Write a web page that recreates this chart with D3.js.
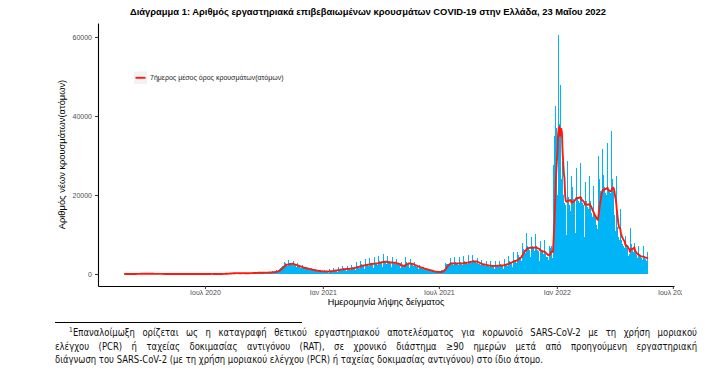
<!DOCTYPE html>
<html><head><meta charset="utf-8">
<script src="https://cdn.jsdelivr.net/npm/d3@7"></script>
<style>
body{margin:0;background:#ffffff;}
svg{display:block;}
</style></head><body>
<svg id="chart" width="716" height="371"></svg>
<script>
// ---------------- DATA ----------------
const startDate = "2020-02-26";

const daily2020 = [
  1,2,1,0,2,
  2,2,5,12,14,15,7,
  18,17,22,31,40,38,24,
  20,56,50,46,77,35,94,
  71,48,78,102,71,74,95,
  56,102,60,129,110,62,60,
  70,56,94,62,54,38,26,
  12,40,25,30,60,50,14,
  21,156,29,17,10,30,15,
  14,8,15,13,9,15,10,
  10,15,5,12,4,10,8,
  6,3,12,19,15,7,3,
  16,6,8,3,8,7,1,
  5,7,13,9,6,6,0,
  2,15,12,3,10,97,7,
  9,10,10,9,21,16,5,
  8,13,15,20,20,13,9,
  4,13,16,16,20,17,6,
  12,17,14,15,19,23,26,
  17,27,33,31,36,47,23,
  21,16,28,29,26,31,19,
  22,33,25,28,33,26,28,
  38,33,75,46,57,110,50,
  40,75,121,124,153,203,151,
  105,150,262,204,217,230,217,
  169,269,235,284,187,202,160,
  175,293,250,222,281,247,160,
  147,156,226,169,234,262,160,
  153,224,372,264,249,240,180,
  206,277,338,297,389,351,220,
  240,453,346,357,312,395,230,
  218,410,416,460,380,393,240,
  219,410,480,440,471,500,300,
  238,543,521,684,508,560,400,
  478,667,1000,882,841,935,620,
  1300,1550,1700,1800,2100,1950,1500,
  3000,2700,2600,2450,2350,2100,1600,
  3600,2850,2700,2600,2500,2300,1650,
  3200,2450,2300,2200,2100,1900,1600,
  2700,1950,1850,1750,1650,1500,1200,
  2300,1650,1500,1450,1400,1250,950,
  1900,1400,1250,1200,1150,1050,800,
  1450,1050,950,920,880,800,600,
  1200,880,800,750,700,500,630,
  1050,760,700,650
];

const daily2021 = [
  450,500,640,
  1000,720,660,630,600,550,390,
  1180,840,760,740,700,640,460,
  1470,1050,950,920,880,810,570,
  1780,1270,1150,1110,1070,980,690,
  1980,1410,1280,1240,1190,1090,770,
  2080,1470,1340,1300,1250,1140,800,
  2400,1700,1550,1500,1440,1320,940,
  2950,2090,1900,1840,1770,1620,1130,
  3410,2420,2200,2130,2050,1870,1320,
  3720,2640,2400,2330,2230,2040,1440,
  4030,2860,2600,2520,2420,2210,1560,
  4190,2970,2700,2620,2510,2300,1610,
  4650,3300,3000,2910,2790,2550,1800,
  5100,3350,3100,3000,2880,2620,1650,
  4570,3250,2950,2860,2740,2510,1770,
  4420,3140,2850,2760,2650,2420,1710,
  3880,2750,2500,2420,2330,2120,1500,
  1600,3100,2200,2000,1900,1700,1500,
  4200,2970,2700,2620,2510,2300,1600,
  3880,2750,2500,2420,2330,2120,1500,
  3020,2150,1950,1890,1810,1660,1170,
  2400,1710,1550,1500,1440,1320,930,
  1860,1320,1200,1160,1120,1020,720,
  1400,990,900,870,840,760,540,
  900,640,580,560,540,490,350,
  780,550,500,490,460,430,290,
  900,900,1000,1100,1250,1400,1150,
  2700,2500,2600,2650,2500,2300,1900,
  4100,2900,2650,2570,2460,2250,1620,
  4190,2970,2700,2620,2510,2300,1610,
  4200,2950,2700,2610,2520,2290,1630,
  4500,3190,2900,2810,2700,2470,1730,
  4700,3470,3150,3060,2930,2680,2060,
  4700,3520,3200,3100,2980,2720,2180,
  4100,2920,2650,2570,2460,2250,1600,
  3640,2590,2350,2280,2190,2000,1400,
  3260,2310,2100,2040,1950,1790,1250,
  3180,2260,2050,1990,1910,1740,1220,
  3260,2310,2100,2040,1950,1790,1250,
  3410,2420,2200,2130,2050,1870,1320,
  3880,2750,2500,2420,2330,2120,1500,
  4650,3300,3000,2910,2790,2550,1800,
  5500,3800,3400,3300,3100,2900,2500,
  5500,4800,4500,4300,4000,3800,3200,
  7800,7000,6300,6000,5700,5400,3800,
  10400,7200,6800,6500,6200,5600,4200,
  9500,7500,7000,6600,6300,5800,4200,
  10200,7000,6300,6000,5800,5400,3400,
  8400,6500,5800,5500,5200,5000,3500,
  8500,5000,4700,4400,4200,4000,3500,
  7200,6000,6500,7000,6000,3000,4000,
  27600,30000,35000,42400,37000
];

const daily2022 = [
  22000,20000,
  60500,41000,38000,26000,47900,24000,12000,
  28700,20000,19000,18000,17500,15000,10000,
  28700,21000,19500,18500,17500,16000,9000,
  24700,22000,20000,19000,18500,17000,10400,
  26800,23400,19500,19000,18500,18000,9900,
  28100,19500,18500,18000,17500,16500,9300,
  23400,20500,18500,17500,17000,16500,9800,
  24700,18500,16500,15500,14500,13000,7900,
  22200,15500,14500,13500,12500,11500,6300,
  29900,24000,22500,21000,20000,19000,10600,
  31700,25000,22000,21500,20500,20000,11200,
  33100,21500,20500,21000,20500,19000,11400,
  36300,24000,21000,19000,15000,11000,6700,
  24900,12000,10500,9500,9000,8500,6100,
  16400,8500,7500,7000,7000,6500,5200,
  9700,7500,7000,6500,5500,4500,3400,
  5000,11600,7500,6500,6000,5500,2700,
  7800,6000,5200,4800,4500,4000,2700,
  7000,5000,4500,4200,4000,3600,2500,
  7000,4500,4000,3800,3700,3300,2400,
  5500
];

const xTickDates  = ["2020-07-01","2021-01-01","2021-07-01","2022-01-01","2022-07-01"];
const xTickLabels = ["Ιουλ 2020","Ιαν 2021","Ιουλ 2021","Ιαν 2022","Ιουλ 2022"];
const yTickValues = [0, 20000, 40000, 60000];

const titleText  = "Διάγραμμα 1: Αριθμός εργαστηριακά επιβεβαιωμένων κρουσμάτων COVID-19 στην Ελλάδα, 23 Μαΐου 2022";
const yTitleText = "Αριθμός νέων κρουσμάτων(ατόμων)";
const xTitleText = "Ημερομηνία λήψης δείγματος";
const legendText = "7ήμερος μέσος όρος κρουσμάτων(ατόμων)";
const footnoteLines = [
  "Επαναλοίμωξη ορίζεται ως η καταγραφή θετικού εργαστηριακού αποτελέσματος για κορωνοϊό SARS-CoV-2 με τη χρήση μοριακού",
  "ελέγχου (PCR) ή ταχείας δοκιμασίας αντιγόνου (RAT), σε χρονικό διάστημα ≥90 ημερών μετά από προηγούμενη εργαστηριακή",
  "διάγνωση του SARS-CoV-2 (με τη χρήση μοριακού ελέγχου (PCR) ή ταχείας δοκιμασίας αντιγόνου) στο ίδιο άτομο."
];

// ---------------- BUILD ----------------
const parse = d3.utcParse("%Y-%m-%d");
const start = parse(startDate);
const values = daily2020.concat(daily2021, daily2022);
const data = values.map((v, i) => ({date: d3.utcDay.offset(start, i), value: v}));
// 7-day (trailing) average
data.forEach((d, i) => {
  const win = data.slice(Math.max(0, i - 6), i + 1);
  d.ma = d3.mean(win, w => w.value);
});

const W = 716, H = 371;
const panel = {left: 98, right: 674, top: 23, bottom: 286};
const svg = d3.select("#chart");
svg.append("rect").attr("width", W).attr("height", H).attr("fill", "#ffffff");

const first = data[0].date, last = data[data.length - 1].date;
const padT = (last - first) * 0.05;
const x = d3.scaleUtc()
  .domain([new Date(+first - padT), new Date(+last + padT)])
  .range([panel.left, panel.right]);
const maxV = d3.max(values);
const padV = maxV * 0.05;
const y = d3.scaleLinear().domain([-padV, maxV + padV]).range([panel.bottom, panel.top]);

const FONT = "'Liberation Sans', Arial, Helvetica, sans-serif";

// bars
svg.append("g").selectAll("rect").data(data).join("rect")
  .attr("x", d => x(d.date) - 0.5)
  .attr("width", 1)
  .attr("y", d => y(d.value))
  .attr("height", d => Math.max(0, y(0) - y(d.value)))
  .attr("fill", "#00b4f5")
  .attr("shape-rendering", "crispEdges");

// moving average
svg.append("path").datum(data)
  .attr("fill", "none")
  .attr("stroke", "#ff1a0a")
  .attr("stroke-width", 1.9)
  .attr("stroke-linejoin", "round")
  .attr("d", d3.line().x(d => x(d.date)).y(d => y(d.ma)));

// axes
svg.append("clipPath").attr("id", "xclip")
  .append("rect").attr("x", 0).attr("y", 0).attr("width", 682).attr("height", H);

const xAxis = svg.append("g")
  .attr("transform", `translate(0,${panel.bottom})`)
  .attr("clip-path", "url(#xclip)")
  .call(d3.axisBottom(x)
    .tickValues(xTickDates.map(parse))
    .tickFormat((d, i) => xTickLabels[i])
    .tickSize(3).tickSizeOuter(0).tickPadding(1.5));
const yAxis = svg.append("g")
  .attr("transform", `translate(${panel.left},0)`)
  .call(d3.axisLeft(y)
    .tickValues(yTickValues)
    .tickFormat(d => String(d))
    .tickSize(3).tickSizeOuter(0).tickPadding(3));

[xAxis, yAxis].forEach(g => {
  g.select(".domain").attr("stroke", "#000").attr("stroke-width", 1.1);
  g.selectAll(".tick line").attr("stroke", "#333").attr("stroke-width", 1);
  g.selectAll(".tick text").attr("fill", "#4d4d4d")
    .style("font-family", FONT).style("font-size", "7px");
});

// title
svg.append("text")
  .attr("x", 130).attr("y", 15)
  .attr("text-anchor", "start")
  .attr("textLength", 476).attr("lengthAdjust", "spacingAndGlyphs")
  .style("font-family", FONT).style("font-weight", "bold").style("font-size", "9px")
  .attr("fill", "#000")
  .text(titleText);

// axis titles
svg.append("text")
  .attr("transform", `translate(65,${(panel.top + panel.bottom) / 2}) rotate(-90)`)
  .attr("text-anchor", "middle")
  .style("font-family", FONT).style("font-size", "9.3px")
  .attr("fill", "#000")
  .text(yTitleText);
svg.append("text")
  .attr("x", (panel.left + panel.right) / 2).attr("y", 305)
  .attr("text-anchor", "middle")
  .style("font-family", FONT).style("font-size", "9px")
  .attr("fill", "#000")
  .text(xTitleText);

// legend
const lg = svg.append("g");
lg.append("rect").attr("x", 134).attr("y", 71.5).attr("width", 13).attr("height", 12.5).attr("fill", "#f2f2f2");
lg.append("line").attr("x1", 135.5).attr("x2", 145.5).attr("y1", 77.8).attr("y2", 77.8)
  .attr("stroke", "#ff1a0a").attr("stroke-width", 1.9);
lg.append("text").attr("x", 150).attr("y", 80.3)
  .style("font-family", FONT).style("font-size", "7px")
  .attr("fill", "#1a1a1a")
  .text(legendText);

// footnote (narrow, justified by word spacing)
const FN = "'Liberation Sans Narrow', 'DejaVu Sans Condensed', 'Arial Narrow', sans-serif";
svg.append("line").attr("x1", 55).attr("x2", 302).attr("y1", 322.5).attr("y2", 322.5)
  .attr("stroke", "#000").attr("stroke-width", 1);
const fnX = [73, 55, 55];
const fnW = [624, 642, null];
const fnY = [336, 349.5, 363];
const lastLineWidth = 488;
const probe = svg.append("text").style("font-family", FN).style("font-size", "10.4px").text(footnoteLines[2]);
const natural = probe.node().getComputedTextLength();
probe.remove();
const sx = Math.min(1, lastLineWidth / natural);
footnoteLines.forEach((t, i) => {
  const g = svg.append("g").attr("transform", `translate(${fnX[i]},${fnY[i]}) scale(${sx},1)`);
  const tx = g.append("text")
    .attr("x", 0).attr("y", 0)
    .style("font-family", FN).style("font-size", "10.4px")
    .attr("fill", "#111")
    .text(t);
  if (fnW[i]) {
    const w = tx.node().getComputedTextLength();
    const nSp = (t.match(/ /g) || []).length;
    const extra = (fnW[i] / sx - w) / nSp;
    tx.style("word-spacing", extra + "px");
  }
  if (i === 0) {
    svg.append("text").attr("x", 69).attr("y", fnY[i] - 3.6)
      .style("font-family", FN).style("font-size", "6.5px").attr("fill", "#111").text("1");
  }
});
</script>
</body></html>
